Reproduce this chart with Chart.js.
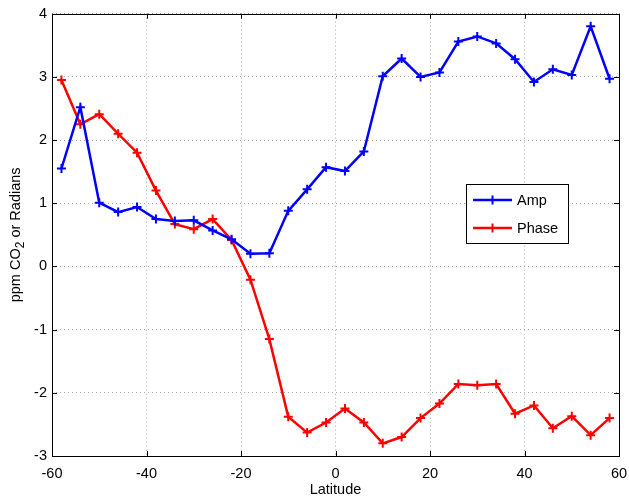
<!DOCTYPE html>
<html>
<head>
<meta charset="utf-8">
<script src="https://cdn.jsdelivr.net/npm/chart.js@4"></script>
<style>
  html, body { margin: 0; padding: 0; background: #fff; }
  #wrap { width: 629px; height: 499px; }
</style>
</head>
<body>
<div id="wrap"><canvas id="chart" width="629" height="499"></canvas></div>
<script>
// data
const latitude = [-58, -54, -50, -46, -42, -38, -34, -30, -26, -22, -18, -14, -10, -6, -2,
                  2, 6, 10, 14, 18, 22, 26, 30, 34, 38, 42, 46, 50, 54, 58];
const ampValues = [1.55, 2.52, 1.01, 0.86, 0.94, 0.75, 0.72, 0.73, 0.57, 0.43, 0.20, 0.21, 0.88, 1.22, 1.57,
                   1.51, 1.82, 3.01, 3.29, 3.00, 3.07, 3.56, 3.64, 3.53, 3.28, 2.92, 3.12, 3.03, 3.80, 2.97];
const phaseValues = [2.95, 2.25, 2.41, 2.10, 1.80, 1.20, 0.67, 0.59, 0.75, 0.42, -0.21, -1.15, -2.38, -2.63, -2.47,
                     -2.25, -2.47, -2.80, -2.70, -2.40, -2.17, -1.86, -1.88, -1.86, -2.33, -2.20, -2.56, -2.37, -2.67, -2.40];
const seriesNames = ['Amp', 'Phase'];
const xTicks = [-60, -40, -20, 0, 20, 40, 60];
const yTicks = [-3, -2, -1, 0, 1, 2, 3, 4];

const FONT = '"Liberation Sans", Arial, sans-serif';

function toPoints(values) {
    return latitude.map((lat, i) => ({ x: lat, y: values[i] }));
}

// box, inward ticks, y title with subscript, legend
const matlabLook = {
    id: 'matlabLook',
    afterDraw(chart) {
        const ctx = chart.ctx;
        const a = chart.chartArea;
        const xs = chart.scales.x;
        const ys = chart.scales.y;
        ctx.save();
        ctx.strokeStyle = '#000';
        ctx.lineWidth = 1;
        ctx.beginPath();
        xTicks.forEach(v => {
            const px = Math.round(xs.getPixelForValue(v)) + 0.5;
            ctx.moveTo(px, a.bottom); ctx.lineTo(px, a.bottom - 5);
            ctx.moveTo(px, a.top); ctx.lineTo(px, a.top + 5);
        });
        yTicks.forEach(v => {
            const py = Math.round(ys.getPixelForValue(v)) + 0.5;
            ctx.moveTo(a.left, py); ctx.lineTo(a.left + 5, py);
            ctx.moveTo(a.right, py); ctx.lineTo(a.right - 5, py);
        });
        ctx.stroke();
        ctx.strokeRect(Math.round(a.left) + 0.5, Math.round(a.top) + 0.5,
                       Math.round(a.right - a.left), Math.round(a.bottom - a.top));

        // y axis title
        ctx.translate(16, (a.top + a.bottom) / 2);
        ctx.rotate(-Math.PI / 2);
        ctx.fillStyle = '#000';
        ctx.textBaseline = 'middle';
        const big = '14.5px ' + FONT;
        const small = '12px ' + FONT;
        const p1 = 'ppm CO', p2 = '2', p3 = ' or Radians';
        ctx.font = big;
        const w1 = ctx.measureText(p1).width, w3 = ctx.measureText(p3).width;
        ctx.font = small;
        const w2 = ctx.measureText(p2).width;
        let x0 = -(w1 + w2 + w3) / 2;
        ctx.font = big;
        ctx.textAlign = 'left';
        ctx.fillText(p1, x0, 0);
        ctx.font = small;
        ctx.fillText(p2, x0 + w1, 5);
        ctx.font = big;
        ctx.fillText(p3, x0 + w1 + w2, 0);
        ctx.restore();

        // legend box
        ctx.save();
        const lx = 466, ly = 184, lw = 102, lh = 59;
        ctx.fillStyle = '#fff';
        ctx.fillRect(lx, ly, lw, lh);
        ctx.strokeStyle = '#000';
        ctx.lineWidth = 1;
        ctx.strokeRect(lx + 0.5, ly + 0.5, lw, lh);
        chart.data.datasets.forEach((ds, i) => {
            const yy = ly + 16 + i * 28;
            ctx.strokeStyle = ds.borderColor;
            ctx.lineWidth = 2.5;
            ctx.beginPath();
            ctx.moveTo(lx + 7, yy); ctx.lineTo(lx + 46, yy);
            ctx.stroke();
            ctx.lineWidth = 2;
            ctx.beginPath();
            ctx.moveTo(lx + 26.5, yy - 4.5); ctx.lineTo(lx + 26.5, yy + 4.5);
            ctx.stroke();
            ctx.fillStyle = '#000';
            ctx.font = '14.5px ' + FONT;
            ctx.textBaseline = 'middle';
            ctx.textAlign = 'left';
            ctx.fillText(ds.label, lx + 51, yy + 1);
        });
        ctx.restore();
    }
};

const chart = new Chart(document.getElementById('chart').getContext('2d'), {
    type: 'line',
    data: {
        datasets: [{
            label: seriesNames[0],
            data: toPoints(ampValues),
            borderColor: '#0000ff',
            backgroundColor: '#0000ff',
            borderWidth: 2.5,
            pointStyle: 'cross',
            pointRadius: 4.5,
            pointBorderWidth: 2,
            tension: 0,
            fill: false,
        }, {
            label: seriesNames[1],
            data: toPoints(phaseValues),
            borderColor: '#ff0000',
            backgroundColor: '#ff0000',
            borderWidth: 2.5,
            pointStyle: 'cross',
            pointRadius: 4.5,
            pointBorderWidth: 2,
            tension: 0,
            fill: false,
        }],
    },
    options: {
        responsive: false,
        animation: false,
        layout: { padding: { top: 10, right: 0, left: 0, bottom: 0 } },
        scales: {
            x: {
                type: 'linear',
                min: -60,
                max: 60,
                afterFit: (scale) => {
                    scale.height = 43;
                    scale.paddingRight = 10;
                },
                afterBuildTicks: (scale) => { scale.ticks = xTicks.map(v => ({ value: v })); },
                ticks: { color: '#000', padding: 9, font: { family: FONT, size: 14.5 } },
                grid: { color: '#a8a8a8', drawTicks: false },
                border: { display: false, dash: [1, 3] },
                title: { display: true, text: 'Latitude', color: '#000', padding: { top: 2, bottom: 0 },
                         font: { family: FONT, size: 14.5 } },
            },
            y: {
                min: -3,
                max: 4,
                afterFit: (scale) => { scale.width = 52; },
                afterBuildTicks: (scale) => { scale.ticks = yTicks.map(v => ({ value: v })); },
                ticks: { color: '#000', padding: 5, font: { family: FONT, size: 14.5 } },
                grid: { color: '#a8a8a8', drawTicks: false },
                border: { display: false, dash: [1, 3] },
            },
        },
        plugins: {
            legend: { display: false },
            tooltip: { enabled: false },
        },
    },
    plugins: [matlabLook],
});
</script>
</body>
</html>
